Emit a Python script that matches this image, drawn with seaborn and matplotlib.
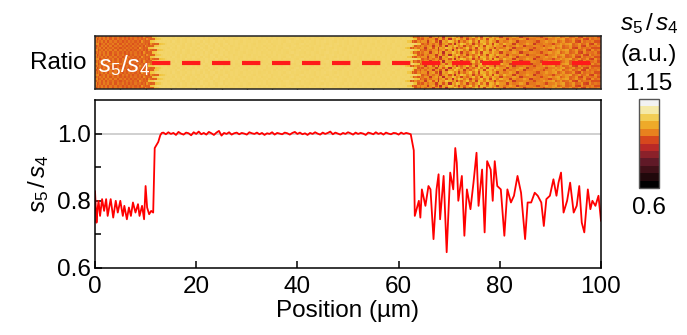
import numpy as np
import pandas as pd
import matplotlib
matplotlib.use("Agg")
import matplotlib.pyplot as plt
from matplotlib.colors import LinearSegmentedColormap, Normalize
from matplotlib.cm import ScalarMappable
import seaborn as sns

# ---- line profile along the dashed line (position in µm, ratio s5/s4) ----
pos_left = [0.0, 0.3, 0.5, 0.7, 1.0, 1.4, 1.8, 2.2, 2.5, 3.1, 3.6, 4.1, 4.5, 5.0,
            5.5, 5.8, 6.3, 6.7, 7.1, 7.5, 8.0, 8.5, 8.8, 9.3, 9.7, 10.0, 10.3,
            10.7, 11.1, 11.5]
ratio_left = [0.829, 0.735, 0.775, 0.800, 0.755, 0.805, 0.770, 0.805, 0.755,
              0.805, 0.750, 0.800, 0.765, 0.800, 0.755, 0.785, 0.745, 0.780,
              0.755, 0.795, 0.765, 0.790, 0.755, 0.785, 0.745, 0.844, 0.780,
              0.760, 0.770, 0.765]

pos_rise = [11.8, 12.1, 12.5, 12.9, 13.2]
ratio_rise = [0.957, 0.965, 0.975, 0.995, 1.002]

pos_plateau = np.arange(13.5, 62.01, 0.5)
ratio_plateau = [
    1.003, 0.998, 1.004, 0.999, 1.002, 0.996, 1.005, 1.000, 0.997, 1.003,
    1.001, 0.995, 1.004, 0.999, 1.006, 0.998, 1.002, 0.997, 1.005, 1.001,
    0.996, 1.003, 1.008, 0.994, 1.002, 0.999, 1.004, 0.997, 1.001, 1.003,
    0.998, 1.002, 1.000, 0.997, 1.004, 1.001, 0.999, 1.003, 0.998, 1.002,
    0.996, 1.001, 0.999, 1.004, 0.997, 1.002, 1.000, 0.998, 1.003, 1.001,
    0.997, 1.002, 1.005, 0.999, 1.003, 0.998, 1.001, 0.996, 1.002, 0.999,
    1.004, 1.000, 0.997, 1.003, 0.999, 1.002, 1.006, 0.998, 1.003, 1.000,
    0.997, 1.002, 0.999, 1.004, 1.001, 0.997, 1.003, 0.999, 1.002, 1.000,
    0.996, 1.003, 1.001, 0.998, 1.004, 0.999, 1.002, 0.997, 1.003, 1.000,
    0.998, 1.002, 1.001, 0.997, 1.003, 0.999, 1.002, 1.000]

pos_drop = [62.4, 62.8, 63.0]
ratio_drop = [0.998, 0.965, 0.950]

pos_right = [63.2, 64.0, 64.3, 64.6, 65.3, 65.9, 66.3, 66.9, 67.5, 67.9, 68.2,
             68.9, 69.5, 70.2, 70.8, 71.2, 71.5, 71.8, 72.5, 73.0, 73.5, 74.2,
             74.8, 75.4, 75.8, 76.5, 77.0, 77.5, 78.2, 78.6, 79.0, 79.5, 80.2,
             80.9, 81.5, 82.2, 82.8, 83.5, 84.2, 85.0, 85.5, 86.2, 86.9, 87.5,
             88.2, 88.7, 89.2, 89.9, 90.6, 91.2, 91.6, 92.1, 92.6, 93.3, 93.9,
             94.6, 95.2, 95.7, 96.2, 96.7, 97.4, 97.9, 98.3, 98.9, 99.5, 100.0]
ratio_right = [0.755, 0.800, 0.750, 0.834, 0.785, 0.844, 0.834, 0.686, 0.834,
               0.879, 0.745, 0.874, 0.647, 0.884, 0.834, 0.957, 0.913, 0.800,
               0.874, 0.696, 0.834, 0.775, 0.854, 0.943, 0.785, 0.893, 0.706,
               0.918, 0.893, 0.800, 0.918, 0.844, 0.834, 0.696, 0.834, 0.795,
               0.815, 0.874, 0.824, 0.686, 0.795, 0.795, 0.824, 0.815, 0.795,
               0.725, 0.805, 0.815, 0.864, 0.815, 0.854, 0.884, 0.765, 0.800,
               0.854, 0.765, 0.785, 0.844, 0.735, 0.706, 0.834, 0.775, 0.800,
               0.785, 0.815, 0.740]

# index offsets used to build the rows of the ratio map from the profile
row_offsets = [0, 2, -1, 3, -2, 1, -3, 2, 0, -1, 3, -2, 1, -3, 2, -1,
               1, -2, 3, 0, -3, 2, -1, 1]

x_ticks = [0, 20, 40, 60, 80, 100]
y_ticks = [0.6, 0.8, 1.0]
cbar_min, cbar_max = 0.6, 1.15

position = np.concatenate([pos_left, pos_rise, pos_plateau, pos_drop, pos_right])
ratio = np.concatenate([ratio_left, ratio_rise, ratio_plateau, ratio_drop, ratio_right])
profile = pd.DataFrame({"Position": position, "Ratio": ratio})

# ---- style ----
sns.set_theme(style="ticks")
plt.rcParams["font.family"] = ["Liberation Sans", "DejaVu Sans"]
plt.rcParams["mathtext.fontset"] = "custom"
plt.rcParams["mathtext.rm"] = "Liberation Sans"
plt.rcParams["mathtext.it"] = "Liberation Sans:italic"
for key in ("text.color", "axes.labelcolor", "xtick.color", "ytick.color",
            "xtick.labelcolor", "ytick.labelcolor"):
    plt.rcParams[key] = "black"
FS = 17.5

hot = LinearSegmentedColormap.from_list(
    "ratio_hot",
    [(0.00, "#000000"), (0.12, "#2a0a0e"), (0.30, "#6a1c2c"), (0.45, "#b82828"),
     (0.55, "#d8481c"), (0.65, "#eb8a1e"), (0.78, "#f0c030"), (0.90, "#f5e8a0"),
     (1.00, "#f2f2f2")])

W, H = 687, 335
fig = plt.figure(figsize=(W / 100, H / 100), dpi=100)

def box(x0, y0, x1, y1):
    return [x0 / W, 1 - y1 / H, (x1 - x0) / W, (y1 - y0) / H]

# ---- ratio map ----
ax_map = fig.add_axes(box(95, 36, 601, 89))
n = len(ratio)
edges = np.concatenate([[position[0]], (position[:-1] + position[1:]) / 2, [position[-1]]])
rows = np.array([ratio[np.clip(np.arange(n) + s, 0, n - 1)] for s in row_offsets])
ax_map.pcolormesh(edges, np.arange(len(row_offsets) + 1), rows, cmap=hot,
                  norm=Normalize(0.22, 1.15), shading="flat")
ax_map.plot([11.3, 100], [len(row_offsets) / 2] * 2, color="#ff1a1a", lw=3,
            dashes=(4.4, 2.8), solid_capstyle="butt")
ax_map.set_xlim(0, 100)
ax_map.set_ylim(0, len(row_offsets))
ax_map.set_xticks(np.arange(5, 100, 5))
ax_map.tick_params(axis="x", direction="in", length=3, width=1, labelbottom=False)
ax_map.set_yticks([])
for sp in ax_map.spines.values():
    sp.set_linewidth(1.1)
    sp.set_color("#222222")
ax_map.text(0.5, len(row_offsets) * 0.45, r"$s_5/s_4$", color="white",
            fontsize=FS, ha="left", va="center")
fig.text(86 / W, 1 - 63 / H, "Ratio", fontsize=FS, ha="right", va="center")

# ---- profile plot ----
ax = fig.add_axes(box(95, 100, 601, 268))
ax.axhline(1.0, color="#c8c8c8", lw=1.2, zorder=0)
sns.lineplot(data=profile, x="Position", y="Ratio", ax=ax, color="#ff0000",
             lw=1.3, estimator=None, sort=False)
ax.set_xlim(0, 100)
ax.set_ylim(0.6, 1.1)
ax.set_xticks(x_ticks)
ax.set_xticklabels([str(t) for t in x_ticks])
ax.set_yticks(y_ticks)
ax.set_yticklabels([f"{t:.1f}" for t in y_ticks])
ax.set_yticks([0.7, 0.9], minor=True)
ax.tick_params(axis="both", which="both", direction="in", width=1.1,
               labelsize=FS, color="black")
ax.tick_params(axis="both", which="major", length=5)
ax.tick_params(axis="y", which="minor", length=4)
ax.tick_params(axis="x", pad=6)
ax.tick_params(axis="y", pad=3)
for sp in ax.spines.values():
    sp.set_linewidth(1.1)
    sp.set_color("black")
ax.set_xlabel("Position (µm)", fontsize=FS, labelpad=1)
ax.set_ylabel(r"$s_5\,/\,s_4$", fontsize=FS, labelpad=4)

# ---- colour scale ----
ax_cb = fig.add_axes(box(639, 99, 659, 188))
cb = fig.colorbar(ScalarMappable(norm=Normalize(cbar_min, cbar_max),
                                 cmap=hot.resampled(12)), cax=ax_cb)
cb.set_ticks([])
cb.outline.set_linewidth(1.0)
cb.outline.set_edgecolor("#555555")
cx = 649 / W
fig.text(cx, 1 - 24 / H, r"$s_5\,/\,s_4$", fontsize=FS, ha="center", va="center")
fig.text(cx, 1 - 55 / H, "(a.u.)", fontsize=FS, ha="center", va="center")
fig.text(cx, 1 - 84 / H, f"{cbar_max:.2f}", fontsize=FS, ha="center", va="center")
fig.text(cx, 1 - 208 / H, f"{cbar_min:.1f}", fontsize=FS, ha="center", va="center")

fig.savefig("out.png", dpi=100)
